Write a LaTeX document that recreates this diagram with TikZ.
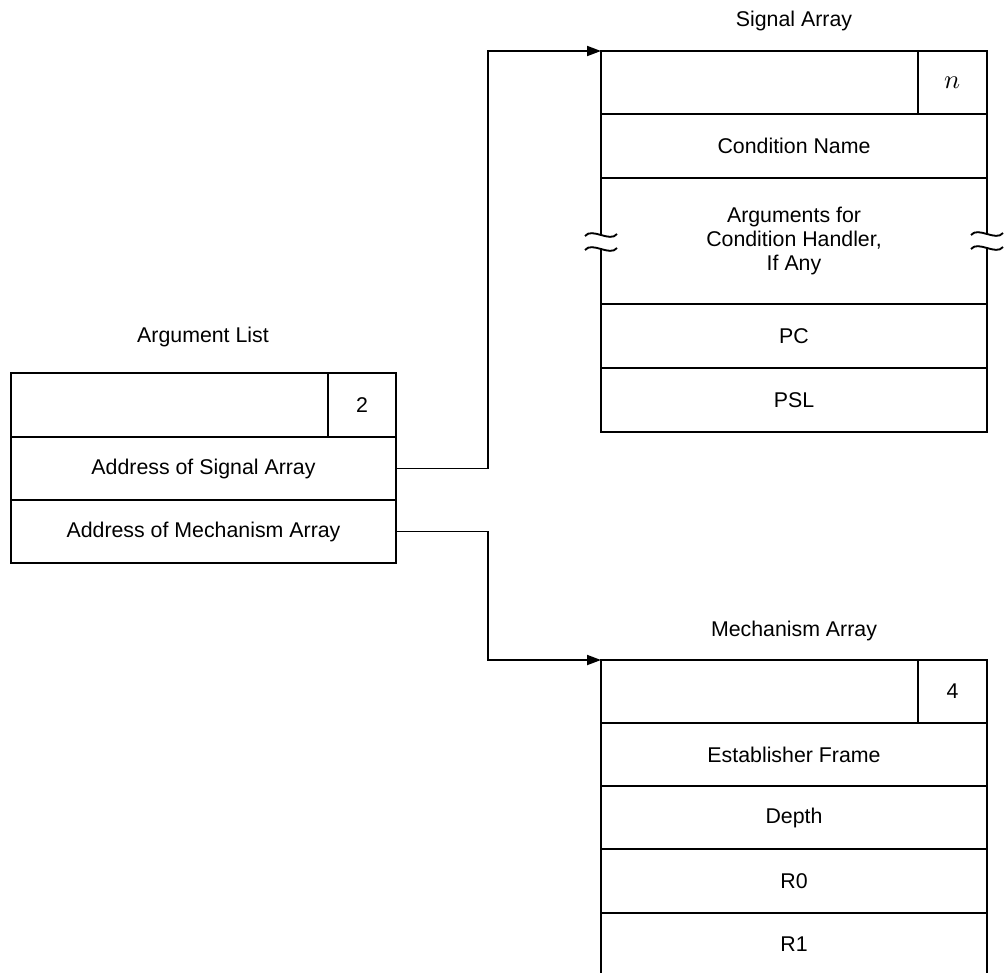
\documentclass[tikz,border=0pt]{standalone}
\usepackage{fontspec}
\usepackage{unicode-math}
\setmainfont{Liberation Sans}
\setmathfont{Latin Modern Math}
\usetikzlibrary{arrows.meta}
\begin{document}
\begin{tikzpicture}[x=0.75pt,y=-0.75pt,
  line width=1.4pt,
  font=\fontsize{16}{18}\selectfont,
  cell/.style 2 args={draw, anchor=north west, inner sep=0pt, outer sep=0pt,
    minimum width={#1*0.75pt}, minimum height={#2*0.75pt}, align=center},
  open/.style 2 args={cell={#1}{#2}, draw=none},
  title/.style={inner sep=0pt},
  link/.style={-{Triangle[length=10.5pt,width=7.5pt]}, line join=miter},
  breakmark/.pic={\draw (-16,1) .. controls (-9,-8) and (9,8) .. (16,-1);}]
\useasboundingbox (0,0) rectangle (1005,972);
\clip (0,0) rectangle (1005,972);

% argument list
\node[title] (argtitle) at (203,337) {Argument List};
\node[cell={385}{64}] (arghead) at (11,373) {};
\node[cell={68}{64}] (argcount) at (328,373) {2};
\node[cell={385}{63}] (argsig) at (11,437) {Address of Signal Array};
\node[cell={385}{63}] (argmech) at (11,500) {Address of Mechanism Array};

% signal array
\node[title] (sigtitle) at (794,21) {Signal Array};
\node[cell={386}{63}] (sighead) at (601,51) {};
\node[cell={69}{63}, font=\fontsize{20}{20}\selectfont] (sigcount) at (918,51) {$n$};
\node[cell={386}{64}] (signame) at (601,114) {Condition Name};
\node[open={386}{126}] (sigargs) at (601,178) {Arguments for\\Condition Handler,\\If Any};
\node[cell={386}{64}] (sigpc) at (601,304) {PC};
\node[cell={386}{64}] (sigpsl) at (601,368) {PSL};

% broken sides of the variable-length part
\coordinate (bl1) at (601,235);
\coordinate (bl2) at (601,249);
\coordinate (br1) at (987,234);
\coordinate (br2) at (987,248);
\draw (sigargs.north west) -- (bl1);
\draw (bl2) -- (sigargs.south west);
\draw (sigargs.north east) -- (br1);
\draw (br2) -- (sigargs.south east);
\pic at (bl1) {breakmark};
\pic at (bl2) {breakmark};
\pic at (br1) {breakmark};
\pic at (br2) {breakmark};

% mechanism array
\node[title] (mechtitle) at (794,631) {Mechanism Array};
\node[cell={386}{63}] (mechhead) at (601,660) {};
\node[cell={69}{63}] (mechcount) at (918,660) {4};
\node[cell={386}{63}] (mechframe) at (601,723) {Establisher Frame};
\node[cell={386}{63}] (mechdepth) at (601,786) {Depth};
\node[cell={386}{64}] (mechr0) at (601,849) {R0};
\node[open={386}{63}] (mechr1) at (601,913) {R1};
\draw (mechr1.north west) -- (mechr1.south west);
\draw (mechr1.north east) -- (mechr1.south east);

% pointers
\coordinate (bus) at (488,0);
\draw[link] (argsig.east) -- (argsig.east -| bus) |- (sighead.north west);
\draw[link] (argmech.east) -- (argmech.east -| bus) |- (mechhead.north west);
\end{tikzpicture}
\end{document}
